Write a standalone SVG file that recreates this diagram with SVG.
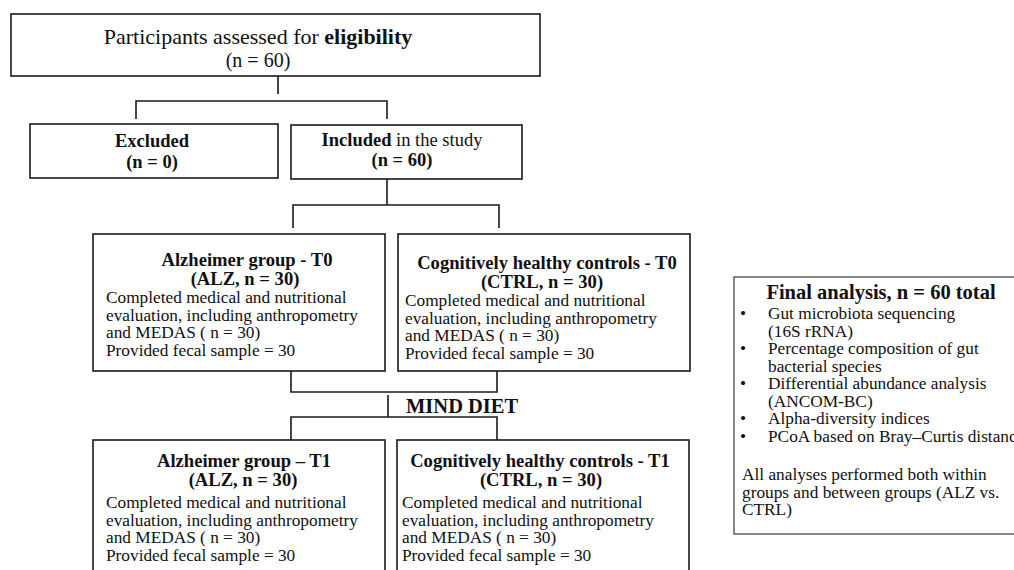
<svg xmlns="http://www.w3.org/2000/svg" width="1014" height="570" viewBox="0 0 1014 570">
<style>
text { font-family: "Liberation Serif", "Times New Roman", serif; fill: #111; }
.box { fill: #fff; stroke: #1a1a1a; stroke-width: 1.6; }
.fbox { fill: #fff; stroke: #555; stroke-width: 1.4; }
.conn { fill: none; stroke: #1a1a1a; stroke-width: 1.6; }
.t { font-size: 18.6px; font-weight: bold; text-anchor: middle; }
.b { font-size: 17.3px; }
.c { text-anchor: middle; }
.bold { font-weight: bold; }
</style>
<rect width="1014" height="570" fill="#fff"/>
<g id="connectors">
  <path class="conn" d="M278 76 V94 M136 119 V101 H387 V119"/>
  <path class="conn" d="M387 179 V205 M293 228 V205 H499 V228"/>
  <path class="conn" d="M291 371 V392 H497 V371"/>
  <path class="conn" d="M388 395 V417 M291 440 V417 H497 V440"/>
</g>
<g id="mind-diet-label">
  <text x="406" y="413" font-size="20.5" font-weight="bold">MIND DIET</text>
</g>
<g id="assessed">
  <rect class="box" x="11" y="14" width="529" height="62"/>
  <text x="258" y="44" font-size="22" text-anchor="middle">Participants assessed for <tspan font-weight="bold">eligibility</tspan></text>
  <text x="258" y="67" font-size="20" text-anchor="middle">(n = 60)</text>
</g>
<g id="excluded">
  <rect class="box" x="30" y="124" width="248" height="54"/>
  <text class="c bold" x="152" y="147" font-size="18.5">Excluded</text>
  <text class="c bold" x="152" y="168" font-size="18.5">(n = 0)</text>
</g>
<g id="included">
  <rect class="box" x="291" y="125" width="231" height="54"/>
  <text class="c" x="402" y="146" font-size="18.5"><tspan font-weight="bold">Included</tspan> in the study</text>
  <text class="c bold" x="402" y="166" font-size="18.5">(n = 60)</text>
</g>
<g id="alz-t0">
  <rect class="box" x="93" y="234" width="292" height="137"/>
  <text class="t" x="247" y="266">Alzheimer group - T0</text>
  <text class="t" x="245" y="285">(ALZ, n = 30)</text>
  <text class="b" x="106" y="303">Completed medical and nutritional</text>
  <text class="b" x="106" y="320.5">evaluation, including anthropometry</text>
  <text class="b" x="106" y="338">and MEDAS ( n = 30)</text>
  <text class="b" x="106" y="355.5">Provided fecal sample = 30</text>
</g>
<g id="ctrl-t0">
  <rect class="box" x="398" y="234" width="292" height="137"/>
  <text class="t" x="547" y="269">Cognitively healthy controls - T0</text>
  <text class="t" x="542" y="288">(CTRL, n = 30)</text>
  <text class="b" x="405" y="306">Completed medical and nutritional</text>
  <text class="b" x="405" y="323.5">evaluation, including anthropometry</text>
  <text class="b" x="405" y="341">and MEDAS ( n = 30)</text>
  <text class="b" x="405" y="358.5">Provided fecal sample = 30</text>
</g>
<g id="alz-t1">
  <rect class="box" x="93" y="440" width="292" height="140"/>
  <text class="t" x="244" y="467">Alzheimer group – T1</text>
  <text class="t" x="243" y="486">(ALZ, n = 30)</text>
  <text class="b" x="106" y="508">Completed medical and nutritional</text>
  <text class="b" x="106" y="525.5">evaluation, including anthropometry</text>
  <text class="b" x="106" y="543">and MEDAS ( n = 30)</text>
  <text class="b" x="106" y="560.5">Provided fecal sample = 30</text>
</g>
<g id="ctrl-t1">
  <rect class="box" x="397" y="440" width="292" height="140"/>
  <text class="t" x="540" y="467">Cognitively healthy controls - T1</text>
  <text class="t" x="541" y="486">(CTRL, n = 30)</text>
  <text class="b" x="402" y="508">Completed medical and nutritional</text>
  <text class="b" x="402" y="525.5">evaluation, including anthropometry</text>
  <text class="b" x="402" y="543">and MEDAS ( n = 30)</text>
  <text class="b" x="402" y="560.5">Provided fecal sample = 30</text>
</g>
<g id="final-analysis">
  <rect class="fbox" x="734" y="277" width="290" height="257"/>
  <text x="881" y="299" font-size="20.5" font-weight="bold" text-anchor="middle">Final analysis, n = 60 total</text>
  <g>
    <text class="b" x="740" y="319">•</text>
    <text class="b" x="768" y="319">Gut microbiota sequencing</text>
    <text class="b" x="768" y="336.5">(16S rRNA)</text>
    <text class="b" x="740" y="354">•</text>
    <text class="b" x="768" y="354">Percentage composition of gut</text>
    <text class="b" x="768" y="371.5">bacterial species</text>
    <text class="b" x="740" y="389">•</text>
    <text class="b" x="768" y="389">Differential abundance analysis</text>
    <text class="b" x="768" y="406.5">(ANCOM-BC)</text>
    <text class="b" x="740" y="424">•</text>
    <text class="b" x="768" y="424">Alpha-diversity indices</text>
    <text class="b" x="740" y="441.5">•</text>
    <text class="b" x="768" y="441.5">PCoA based on Bray–Curtis distance</text>
    <text class="b" x="742" y="480">All analyses performed both within</text>
    <text class="b" x="742" y="497.5">groups and between groups (ALZ vs.</text>
    <text class="b" x="742" y="515">CTRL)</text>
  </g>
</g>
</svg>
